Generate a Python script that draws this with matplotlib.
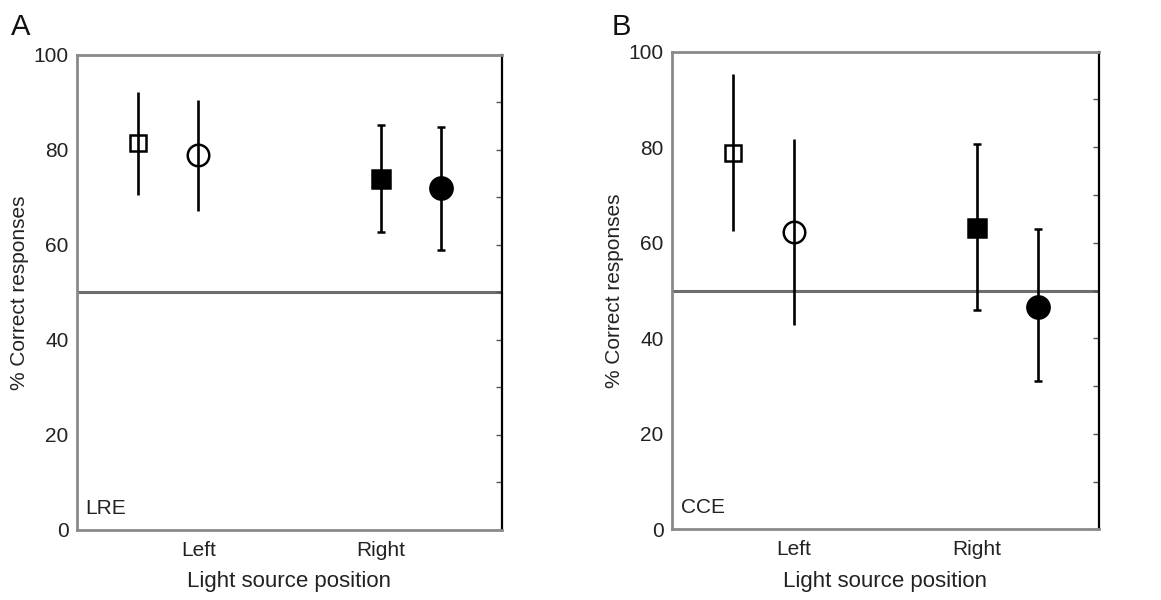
import matplotlib.pyplot as plt
from matplotlib.ticker import MultipleLocator

plt.rcParams['font.family'] = ['Liberation Sans', 'DejaVu Sans']

# x positions of the four conditions, ticks at the group centres
positions = [1, 2, 5, 6]
tick_pos = [2, 5]
tick_labels = ['Left', 'Right']

# panel A (LRE)
lre_mean = [81.4, 78.9, 73.9, 71.9]
lre_upper = [92.2, 90.5, 85.3, 84.9]
lre_lower = [70.5, 67.2, 62.8, 58.9]

# panel B (CCE)
cce_mean = [78.7, 62.2, 63.0, 46.6]
cce_upper = [95.4, 81.7, 80.7, 62.8]
cce_lower = [62.5, 42.8, 45.9, 31.1]

chance = 50

markers = ['s', 'o', 's', 'o']
fills = ['none', 'none', 'black', 'black']
msizes = [12, 15.5, 13, 16]
caps = [0, 0, 3, 3]

fig = plt.figure(figsize=(11.61, 6.0), dpi=100)
axA = fig.add_axes([0.0663, 0.1167, 0.3661, 0.7917])
axB = fig.add_axes([0.5788, 0.1178, 0.3678, 0.7960])

def draw(ax, mean, upper, lower, tag, letter, lx):
    ax.axhline(chance, color='#6e6e6e', lw=2.2, zorder=1)
    for i in range(len(positions)):
        err = [[mean[i] - lower[i]], [upper[i] - mean[i]]]
        ax.errorbar([positions[i]], [mean[i]], yerr=err, fmt=markers[i],
                    color='black', mfc=fills[i], mec='black', ms=msizes[i],
                    mew=1.8, elinewidth=1.9, capsize=caps[i], capthick=2.0,
                    zorder=3)
    ax.set_xlim(0, 7)
    ax.set_ylim(0, 100)
    ax.set_yticks([0, 20, 40, 60, 80, 100])
    ax.yaxis.set_minor_locator(MultipleLocator(10))
    ax.tick_params(axis='y', which='both', left=False, right=True,
                   direction='in', length=4, width=1, color='#555555',
                   labelsize=15, pad=6, labelcolor='#222222')
    ax.set_xticks(tick_pos)
    ax.set_xticklabels(tick_labels)
    ax.tick_params(axis='x', length=0, labelsize=15, pad=8, labelcolor='#222222')
    for s in ['top', 'left', 'bottom']:
        ax.spines[s].set_color('#8a8a8a')
        ax.spines[s].set_linewidth(2)
    ax.spines['right'].set_color('black')
    ax.spines['right'].set_linewidth(1.6)
    ax.set_xlabel('Light source position', fontsize=16, color='#222222', labelpad=8)
    ax.set_ylabel('% Correct responses', fontsize=15, color='#222222', labelpad=3)
    ax.text(0.02, 0.025, tag, transform=ax.transAxes, fontsize=15,
            color='#222222', ha='left', va='bottom')
    fig.text(lx, 0.955, letter, fontsize=21, color='#111111', ha='left', va='center')

draw(axA, lre_mean, lre_upper, lre_lower, 'LRE', 'A', 0.009)
draw(axB, cce_mean, cce_upper, cce_lower, 'CCE', 'B', 0.527)

fig.savefig('out.png', dpi=100)
